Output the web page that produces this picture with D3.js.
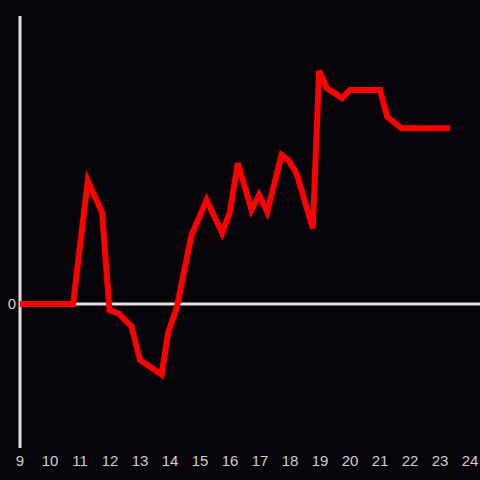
<!DOCTYPE html>
<html>
<head>
<meta charset="utf-8">
<script src="https://d3js.org/d3.v7.min.js"></script>
<style>
  html, body { margin: 0; padding: 0; background: #060408; }
  text { font-family: "Liberation Sans", Arial, sans-serif; }
</style>
</head>
<body>
<svg width="480" height="480"></svg>
<script>
// hours of the day and the value at each
var hours = [9, 10.77, 11.06, 11.26, 11.74, 11.98, 12.28, 12.72, 13.0, 13.72, 13.94, 14.22,
             14.72, 15.22, 15.74, 16.0, 16.26, 16.72, 16.97, 17.24, 17.72, 17.94, 18.22,
             18.76, 18.97, 19.22, 19.74, 20.0, 21.0, 21.24, 21.72, 23.33];
var values = [0, 0, 0.51, 0.856, 0.634, -0.042, -0.065, -0.157, -0.389, -0.49, -0.2, -0.028,
              0.479, 0.722, 0.493, 0.641, 0.977, 0.653, 0.757, 0.641, 1.035, 1.0, 0.907,
              0.526, 1.62, 1.50, 1.43, 1.486, 1.486, 1.30, 1.22, 1.22];
var xTicks = d3.range(9, 25);
var yTicks = [0];

var svg = d3.select("svg");
svg.append("rect").attr("width", 480).attr("height", 480).attr("fill", "#060408");

var x = d3.scaleLinear().domain([9, 24]).range([20, 470]);
var y = d3.scaleLinear().domain([-1, 2]).range([448, 16]);

// y axis line
svg.append("line")
  .attr("x1", x(9)).attr("x2", x(9))
  .attr("y1", y(2)).attr("y2", y(-1))
  .attr("stroke", "#e0e0e0").attr("stroke-width", 3);

// zero line
svg.append("line")
  .attr("x1", x(9)).attr("x2", 480)
  .attr("y1", y(0)).attr("y2", y(0))
  .attr("stroke", "#e0e0e0").attr("stroke-width", 3);

// x labels
svg.append("g").selectAll("text")
  .data(xTicks).enter().append("text")
  .attr("x", function(d){ return x(d); })
  .attr("y", 466)
  .attr("text-anchor", "middle")
  .attr("font-size", 15)
  .attr("fill", "#cfcfcf")
  .text(function(d){ return d; });

// y labels
svg.append("g").selectAll("text")
  .data(yTicks).enter().append("text")
  .attr("x", 16)
  .attr("y", function(d){ return y(d) + 5; })
  .attr("text-anchor", "end")
  .attr("font-size", 15)
  .attr("fill", "#cfcfcf")
  .text(function(d){ return d; });

var line = d3.line()
  .x(function(d, i){ return x(hours[i]); })
  .y(function(d){ return y(d); });

svg.append("path")
  .datum(values)
  .attr("d", line)
  .attr("fill", "none")
  .attr("stroke", "#ff0000")
  .attr("stroke-width", 6)
  .attr("stroke-linejoin", "miter");
</script>
</body>
</html>
